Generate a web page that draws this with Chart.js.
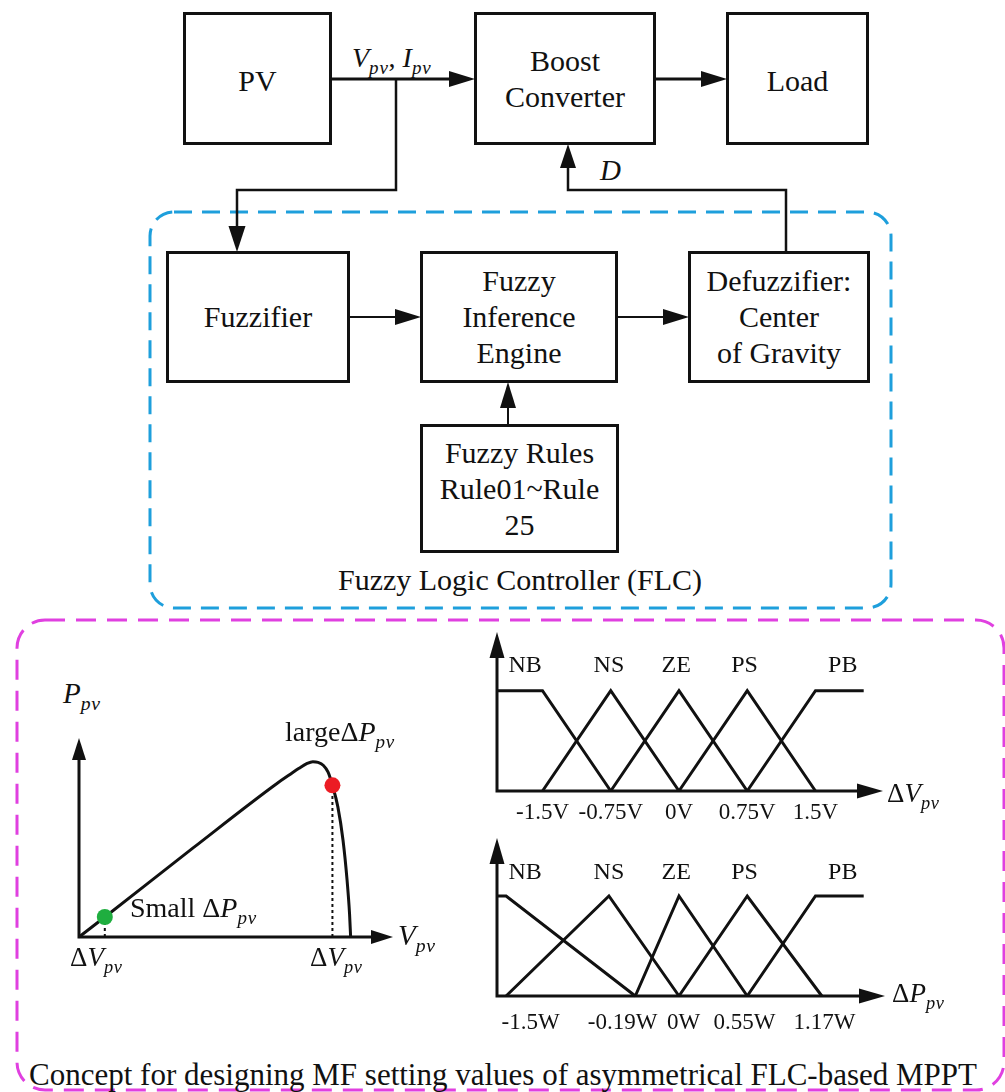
<!DOCTYPE html>
<html>
<head>
<meta charset="utf-8">
<title>FLC-based MPPT</title>
<script src="https://cdn.jsdelivr.net/npm/chart.js@4.4.0/dist/chart.umd.min.js"></script>
<style>
  html, body { margin: 0; padding: 0; background: #fff; }
  body { width: 1005px; height: 1092px; position: relative; overflow: hidden;
         font-family: "Liberation Serif", "Times New Roman", serif; color: #111; }
  .box { position: absolute; box-sizing: border-box; border: 3px solid #111;
         display: flex; align-items: center; justify-content: center; text-align: center;
         font-family: "Liberation Serif", "Times New Roman", serif;
         font-size: 30px; line-height: 36px; }
  .lbl { position: absolute; white-space: nowrap; line-height: 1;
         font-family: "Liberation Serif", "Times New Roman", serif; }
  .lbl i { font-style: italic; }
  .lbl sub { font-size: 0.68em; font-style: italic; vertical-align: baseline; letter-spacing: 0.04em;
             position: relative; top: 0.36em; line-height: 0; }
  canvas { position: absolute; }
  svg { position: absolute; left: 0; top: 0; }
</style>
</head>
<body>

<svg width="1005" height="1092">
  <!-- FLC and MPPT-concept frames -->
  <rect x="150" y="212" width="741" height="396" rx="24" fill="none"
        stroke="#1e9fdc" stroke-width="3" stroke-dasharray="18 10"/>
  <rect x="17" y="620" width="987" height="470" rx="28" fill="none"
        stroke="#e040e0" stroke-width="3" stroke-dasharray="20 11"/>
  <!-- power path -->
  <g stroke="#111" fill="none" stroke-width="3">
    <path d="M332 79 H450"/>
    <path d="M656 79 H702"/>
  </g>
  <!-- measurement and duty-cycle paths -->
  <g stroke="#111" fill="none" stroke-width="2.5">
    <path d="M396 79 V190 H237 V228"/>
    <path d="M786 251 V190 H568 V166"/>
  </g>
  <!-- FLC internal paths -->
  <g stroke="#111" fill="none" stroke-width="2">
    <path d="M350 317 H396"/>
    <path d="M618 317 H664"/>
    <path d="M508 424 V406"/>
  </g>
  <g fill="#111">
    <polygon points="449,71 475,79 449,87"/>
    <polygon points="701,71 727,79 701,87"/>
    <polygon points="228.5,226 245.5,226 237,252"/>
    <polygon points="560,168 576,168 568,144"/>
    <polygon points="395,309 421,317 395,325"/>
    <polygon points="663,309 689,317 663,325"/>
    <polygon points="500,408 516,408 508,382"/>
  </g>
</svg>

<div class="box" style="left:183px;top:12px;width:149px;height:133px;padding-top:4px;">PV</div>
<div class="box" style="left:474px;top:12px;width:182px;height:133px;">Boost<br>Converter</div>
<div class="box" style="left:726px;top:12px;width:143px;height:133px;padding-top:4px;">Load</div>
<div class="box" style="left:166px;top:251px;width:184px;height:132px;">Fuzzifier</div>
<div class="box" style="left:420px;top:251px;width:198px;height:132px;">Fuzzy<br>Inference<br>Engine</div>
<div class="box" style="left:688px;top:251px;width:182px;height:132px;">Defuzzifier:<br>Center<br>of Gravity</div>
<div class="box" style="left:420px;top:424px;width:199px;height:129px;">Fuzzy Rules<br>Rule01~Rule<br>25</div>

<canvas id="pvChart"></canvas>
<canvas id="dvChart"></canvas>
<canvas id="dpChart"></canvas>

<script>
// ---- P-V characteristic (normalised: V / Voc, P / Pmax) ----
const pvVolt  = [0, 0.10, 0.42, 0.73, 0.775, 0.81, 0.84, 0.861, 0.88, 0.90, 0.917, 0.933, 0.953, 0.972, 0.987, 0.996, 1.0];
const pvPower = [0, 0.12, 0.508, 0.877, 0.925, 0.962, 0.99, 1.0, 0.996, 0.978, 0.94, 0.865, 0.742, 0.552, 0.323, 0.133, 0];
// operating points: small step far from MPP, large step past the MPP
const markerVolt  = [0.095, 0.933];
const markerPower = [0.114, 0.865];
const markerColors = ['#1fae3f', '#ec1c24'];

// ---- membership functions ----
const mfNames = ['NB', 'NS', 'ZE', 'PS', 'PB'];
const mfNameX = [-1.69, -0.77, -0.03, 0.72, 1.8];
const shoulderLeft  = [1, 1, 0];
const triangle      = [0, 1, 0];
const shoulderRight = [0, 1, 1];

// ΔV_pv input (volts)
const dvNB = [-2.0, -1.5, -0.75];
const dvNS = [-1.5, -0.75, 0];
const dvZE = [-0.75, 0, 0.75];
const dvPS = [0, 0.75, 1.5];
const dvPB = [0.75, 1.5, 2.03];
const dvTicks = [-1.5, -0.75, 0, 0.75, 1.5];
const dvTickLabels = ['-1.5V', '-0.75V', '0V', '0.75V', '1.5V'];

// ΔP_pv input (asymmetrical; drawn on a schematic position axis)
const dpNB = [-2.0, -1.9, -0.48];
const dpNS = [-1.9, -0.77, 0];
const dpZE = [-0.48, 0, 0.75];
const dpPS = [0, 0.75, 1.57];
const dpPB = [0.75, 1.5, 2.03];
const dpTicks = [-1.63, -0.62, 0.05, 0.72, 1.6];
const dpTickLabels = ['-1.5W', '-0.19W', '0W', '0.55W', '1.17W'];

const INK = '#111';
const SERIF = '"Liberation Serif", "Times New Roman", serif';

const pts = (xs, ys) => xs.map((x, i) => ({ x, y: ys[i] }));

function arrowAxes(head, half, width) {
  return {
    id: 'arrowAxes',
    beforeDatasetsDraw(chart) {
      const { ctx, scales: { x, y } } = chart;
      const x0 = x.getPixelForValue(x.min), x1 = x.getPixelForValue(x.max);
      const y0 = y.getPixelForValue(0), y1 = y.getPixelForValue(y.max);
      ctx.save();
      ctx.strokeStyle = INK; ctx.fillStyle = INK; ctx.lineWidth = width;
      ctx.beginPath();
      ctx.moveTo(x0, y1 + head - 2); ctx.lineTo(x0, y0); ctx.lineTo(x1 - head + 2, y0);
      ctx.stroke();
      ctx.beginPath();
      ctx.moveTo(x0, y1); ctx.lineTo(x0 - half, y1 + head); ctx.lineTo(x0 + half, y1 + head);
      ctx.closePath(); ctx.fill();
      ctx.beginPath();
      ctx.moveTo(x1, y0); ctx.lineTo(x1 - head, y0 - half); ctx.lineTo(x1 - head, y0 + half);
      ctx.closePath(); ctx.fill();
      ctx.restore();
    }
  };
}

function mfText(nameY, ticks, tickLabels, tickGap) {
  return {
    id: 'mfText',
    afterDatasetsDraw(chart) {
      const { ctx, scales: { x, y }, chartArea } = chart;
      ctx.save();
      ctx.fillStyle = INK; ctx.textAlign = 'center'; ctx.textBaseline = 'middle';
      ctx.font = '24px ' + SERIF;
      mfNames.forEach((n, i) => ctx.fillText(n, x.getPixelForValue(mfNameX[i]), y.getPixelForValue(nameY)));
      ctx.font = '23px ' + SERIF;
      tickLabels.forEach((t, i) => ctx.fillText(t, x.getPixelForValue(ticks[i]), chartArea.bottom + tickGap));
      ctx.restore();
    }
  };
}

// place a canvas so that its plot area is exactly the given page box
function makeChart(id, box, xRange, yRange, datasets, plugins) {
  const pad = { left: 12, top: 12, right: 12, bottom: box.padBottom || 12 };
  const cv = document.getElementById(id);
  const w = box.x1 - box.x0 + pad.left + pad.right;
  const h = box.y0 - box.yTop + pad.top + pad.bottom;
  cv.width = w; cv.height = h;
  cv.style.width = w + 'px'; cv.style.height = h + 'px';
  cv.style.left = (box.x0 - pad.left) + 'px';
  cv.style.top = (box.yTop - pad.top) + 'px';
  return new Chart(cv, {
    type: 'line',
    data: { datasets },
    options: {
      responsive: false, animation: false, devicePixelRatio: 1, events: [],
      layout: { padding: pad },
      scales: {
        x: { type: 'linear', display: false, min: xRange[0], max: xRange[1] },
        y: { type: 'linear', display: false, min: yRange[0], max: yRange[1] }
      },
      plugins: { legend: { display: false }, tooltip: { enabled: false } }
    },
    plugins
  });
}

const mfLine = (xs, ys) => ({
  data: pts(xs, ys), borderColor: INK, borderWidth: 3, pointRadius: 0,
  tension: 0, borderJoinStyle: 'miter', clip: false, fill: false
});

// P-V curve
makeChart('pvChart', { x0: 79, x1: 393, y0: 937, yTop: 738 }, [0, 1.156], [0, 1.135], [
  { data: pts(markerVolt, markerPower), showLine: false, pointRadius: 8, pointBorderWidth: 0,
    pointBackgroundColor: markerColors, clip: false },
  { data: pts(pvVolt, pvPower), borderColor: INK, borderWidth: 3, pointRadius: 0,
    cubicInterpolationMode: 'monotone', clip: false, fill: false },
  { data: pts([markerVolt[0], markerVolt[0]], [0, markerPower[0]]), borderColor: INK,
    borderWidth: 2, borderDash: [3, 3], pointRadius: 0 },
  { data: pts([markerVolt[1], markerVolt[1]], [0, markerPower[1]]), borderColor: INK,
    borderWidth: 2, borderDash: [3, 3], pointRadius: 0 }
], [arrowAxes(22, 7, 3)]);

// ΔV_pv membership functions
makeChart('dvChart', { x0: 497, x1: 883, y0: 791, yTop: 632, padBottom: 45 }, [-2, 2.242], [0, 1.585], [
  mfLine(dvNB, shoulderLeft), mfLine(dvNS, triangle), mfLine(dvZE, triangle),
  mfLine(dvPS, triangle), mfLine(dvPB, shoulderRight)
], [arrowAxes(26, 7.5, 3), mfText(1.246, dvTicks, dvTickLabels, 22)]);

// ΔP_pv membership functions
makeChart('dpChart', { x0: 497, x1: 885, y0: 996, yTop: 838, padBottom: 45 }, [-2, 2.264], [0, 1.58], [
  mfLine(dpNB, shoulderLeft), mfLine(dpNS, triangle), mfLine(dpZE, triangle),
  mfLine(dpPS, triangle), mfLine(dpPB, shoulderRight)
], [arrowAxes(26, 7.5, 3), mfText(1.23, dpTicks, dpTickLabels, 27)]);

// text labels with subscripts
function label(html, x, baseline, size, centered) {
  const d = document.createElement('div');
  d.className = 'lbl';
  d.innerHTML = html;
  d.style.fontSize = size + 'px';
  d.style.top = (baseline - 0.84 * size) + 'px';
  d.style.left = x + 'px';
  if (centered) d.style.transform = 'translateX(-50%)';
  document.body.appendChild(d);
}
label('<i>V</i><sub>pv</sub>, <i>I</i><sub>pv</sub>', 352, 68, 28);
label('<i>D</i>', 600, 180, 29);
label('Fuzzy Logic Controller (FLC)', 520, 590, 30, true);
label('<i>P</i><sub>pv</sub>', 63, 703, 29);
label('large&Delta;<i>P</i><sub>pv</sub>', 285, 742, 28);
label('Small &Delta;<i>P</i><sub>pv</sub>', 130, 918, 28);
label('<i>V</i><sub>pv</sub>', 398, 945, 29);
label('&Delta;<i>V</i><sub>pv</sub>', 70, 967, 27);
label('&Delta;<i>V</i><sub>pv</sub>', 310, 967, 27);
label('&Delta;<i>V</i><sub>pv</sub>', 887, 803, 27);
label('&Delta;<i>P</i><sub>pv</sub>', 892, 1003, 27);
label('Concept for designing MF setting values of asymmetrical FLC-based MPPT', 503, 1085, 31, true);
</script>
</body>
</html>
